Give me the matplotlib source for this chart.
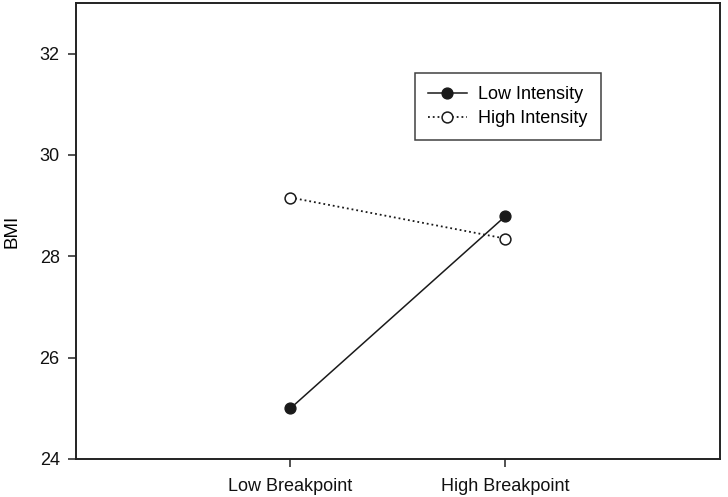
import matplotlib
matplotlib.use("Agg")
import matplotlib.pyplot as plt

plt.rcParams['font.family'] = ['Liberation Sans', 'DejaVu Sans']

categories = ["Low Breakpoint", "High Breakpoint"]
low_intensity = [25.0, 28.79]
high_intensity = [29.16, 28.35]
yticks = [24, 26, 28, 30, 32]

fig = plt.figure(figsize=(7.28, 4.97), dpi=100)
ax = fig.add_axes([0.104, 0.0765, 0.885, 0.9175])

x = [1, 2]
col = '#1a1a1a'
ax.plot(x, low_intensity, '-', color=col, lw=1.1, marker='o', ms=7.8,
        mfc=col, mec=col, label='Low Intensity')
ax.plot(x, high_intensity, ':', color=col, lw=1.3, marker='o', ms=7.8,
        mfc='white', mec=col, mew=1.1, label='High Intensity')

fs = 13
ax.set_xlim(0, 3)
ax.set_ylim(24, 33)
ax.set_xticks(x)
ax.set_xticklabels(categories, fontsize=fs)
ax.set_yticks(yticks)
ax.set_yticklabels([str(v) for v in yticks], fontsize=fs)
ax.set_ylabel("BMI", fontsize=fs + 0.5, labelpad=14)
for s in ax.spines.values():
    s.set_linewidth(1.4)
    s.set_color('#222222')
ax.tick_params(direction='out', length=5.5, width=1.1, colors='#222222',
               labelcolor='#111111', pad=6)
ax.tick_params(axis='x', pad=8)

leg = ax.legend(loc='upper left', bbox_to_anchor=(0.526, 0.846), borderaxespad=0,
                fontsize=fs, frameon=True, fancybox=False, handlelength=2.2,
                handletextpad=0.6, labelspacing=0.4, borderpad=0.72)
leg.get_frame().set_edgecolor('#111111')
leg.get_frame().set_linewidth(1.1)

fig.savefig("out.png", dpi=100)
